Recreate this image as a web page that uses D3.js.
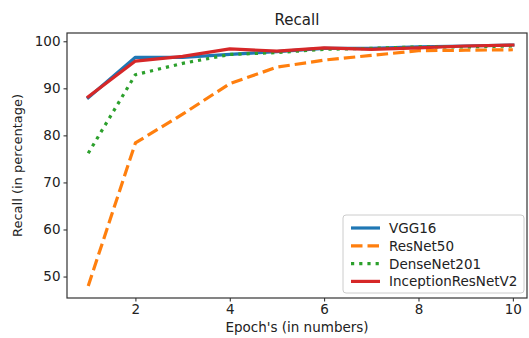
<!DOCTYPE html>
<html><head><meta charset="utf-8">
<script src="https://cdn.jsdelivr.net/npm/d3@7"></script>
<style>body{margin:0;background:#fff}svg{display:block}text{font-family:"DejaVu Sans",sans-serif;fill:#222}</style>
</head><body><svg id="c" width="529" height="338"></svg>
<script>
const epochs = [1,2,3,4,5,6,7,8,9,10];
const vgg16 = [88.0,96.6,96.6,97.2,97.8,98.5,98.5,98.8,99.0,99.2];
const resnet50 = [48.0,78.4,84.5,91.0,94.5,96.0,97.0,98.0,98.1,98.2];
const densenet201 = [76.2,92.9,95.3,97.2,97.6,98.3,98.5,98.8,98.8,99.0];
const inception = [88.2,95.8,96.8,98.4,97.9,98.6,98.3,98.6,99.0,99.2];
const xTicks = [2,4,6,8,10];
const yTicks = [50,60,70,80,90,100];
const seriesNames = ["VGG16","ResNet50","DenseNet201","InceptionResNetV2"];

const series = [
  {name:seriesNames[0], values:vgg16, color:"#1f77b4", dash:null, cap:"square"},
  {name:seriesNames[1], values:resnet50, color:"#ff7f0e", dash:"11.5,5", cap:"butt"},
  {name:seriesNames[2], values:densenet201, color:"#2ca02c", dash:"3.2,5", cap:"butt"},
  {name:seriesNames[3], values:inception, color:"#d62728", dash:null, cap:"square"}
];

const L=67, R=527, T=33, B=298;
const FS = "13.5px";
const svg = d3.select("#c");
const x = d3.scaleLinear().domain([0.55,10.3]).range([L,R]);
const y = d3.scaleLinear().domain([45.44,101.76]).range([B,T]);

svg.append("g").attr("transform",`translate(0,${B})`)
  .call(d3.axisBottom(x).tickValues(xTicks).tickSize(3.5).tickPadding(3).tickFormat(d3.format("d")))
  .call(g=>{g.select(".domain").remove();g.selectAll("text").attr("font-size",FS).style("font-family","DejaVu Sans");g.selectAll("line").attr("stroke","#222");});
svg.append("g").attr("transform",`translate(${L},0)`)
  .call(d3.axisLeft(y).tickValues(yTicks).tickSize(3.5).tickPadding(3).tickFormat(d3.format("d")))
  .call(g=>{g.select(".domain").remove();g.selectAll("text").attr("font-size",FS).style("font-family","DejaVu Sans");g.selectAll("line").attr("stroke","#222");});

svg.append("clipPath").attr("id","pc").append("rect").attr("x",L).attr("y",T).attr("width",R-L).attr("height",B-T);

const line = d3.line().x((d,i)=>x(epochs[i])).y(d=>y(d));
const gl = svg.append("g").attr("clip-path","url(#pc)");
series.forEach(s=>{
  gl.append("path").attr("d",line(s.values)).attr("fill","none")
    .attr("stroke",s.color).attr("stroke-width",3.2).attr("stroke-linecap",s.cap)
    .attr("stroke-linejoin","round").attr("stroke-dasharray",s.dash);
});

svg.append("rect").attr("x",L).attr("y",T).attr("width",R-L).attr("height",B-T)
  .attr("fill","none").attr("stroke","#333").attr("stroke-width",1.2);

svg.append("text").attr("x",(L+R)/2).attr("y",25).attr("text-anchor","middle").attr("font-size","15px").text("Recall");
svg.append("text").attr("x",(L+R)/2).attr("y",332).attr("text-anchor","middle").attr("font-size",FS).text("Epoch's (in numbers)");
svg.append("text").attr("transform",`translate(22,${(T+B)/2}) rotate(-90)`).attr("text-anchor","middle").attr("font-size","13px").text("Recall (in percentage)");

const lg = svg.append("g");
lg.append("rect").attr("x",343).attr("y",215).attr("width",181).attr("height",78).attr("rx",3)
  .attr("fill","#fff").attr("fill-opacity",0.8).attr("stroke","#ccc");
series.forEach((s,i)=>{
  const yy = 228 + i*17.8;
  lg.append("line").attr("x1",351).attr("x2",380).attr("y1",yy).attr("y2",yy)
    .attr("stroke",s.color).attr("stroke-width",3.2).attr("stroke-dasharray",s.dash).attr("stroke-linecap","butt");
  lg.append("text").attr("x",389).attr("y",yy+5).attr("font-size",FS).text(s.name);
});
</script></body></html>
